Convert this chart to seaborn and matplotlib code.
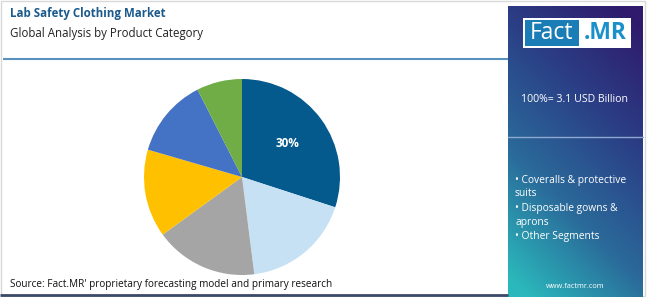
import numpy as np
import matplotlib
matplotlib.use("Agg")
import matplotlib.pyplot as plt
from matplotlib.patches import Rectangle
from matplotlib.colors import LinearSegmentedColormap
import seaborn as sns

# ---- data ----
segments = ["Coveralls & protective suits", "Disposable gowns & aprons", "Segment C",
            "Segment D", "Segment E", "Other Segments"]
shares = [30, 18, 17, 14.5, 13, 7.5]
colors = ["#045a8d", "#c6e1f3", "#a5a5a5", "#ffc000", "#4472c4", "#70ad47"]
title = "Lab Safety Clothing Market"
subtitle = "Global Analysis by Product Category"
source = "Source: Fact.MR' proprietary forecasting model and primary research"
total_label = "100%= 3.1 USD Billion"
legend_lines = ["• Coveralls & protective", "suits", "• Disposable gowns &", "aprons", "• Other Segments"]

sns.set_theme(style="white")
plt.rcParams['font.family'] = ['Open Sans', 'DejaVu Sans']

W, H = 650, 297
fig = plt.figure(figsize=(W / 100, H / 100), dpi=100)
fig.patch.set_facecolor("white")

def fx(px):
    return px / W

def fy(py):
    return 1 - py / H

# background overlay axes
bg = fig.add_axes([0, 0, 1, 1])
bg.set_xlim(0, W)
bg.set_ylim(H, 0)
bg.axis("off")

# outer border
bg.add_patch(Rectangle((1, 1), W - 6, H - 2, fill=False, edgecolor="#d9d9d9", lw=1))

# gradient panel
px0, px1, py0, py1 = 508, 643, 6, 297
ny, nx = 200, 100
yy, xx = np.mgrid[0:1:ny * 1j, 0:1:nx * 1j]
t = np.clip(0.75 * yy + 0.35 * (1 - xx) - 0.05, 0, 1)
cmap = LinearSegmentedColormap.from_list("fm", ["#2f1a6c", "#2b3f86", "#2a6a9a", "#2bb8bb"])
bg.imshow(t, cmap=cmap, extent=[px0, px1, py1, py0], aspect="auto", zorder=1)

# separator in panel
bg.plot([px0, px1], [137, 137], color="#8fa8d0", lw=1, zorder=2)

# logo
bg.add_patch(Rectangle((523, 18), 108, 30, facecolor="white", edgecolor="none", zorder=3))
bg.add_patch(Rectangle((525, 20), 54, 26, facecolor="#1b7db5", edgecolor="none", zorder=4))
bg.text(551.5, 33, "Fact", color="white", fontsize=16.5, ha="center", va="center", zorder=5)
bg.text(605, 33, ".MR", color="#1b8fc9", fontsize=16.5, fontweight="bold", ha="center", va="center", zorder=5)

bg.text(574.5, 100, total_label, color="white", fontsize=7.6, ha="center", va="center", zorder=5)
ys = [180, 194, 208, 222, 236]
for yv, line in zip(ys, legend_lines):
    bg.text(515, yv, line, color="white", fontsize=7.4, ha="left", va="center", zorder=5)
bg.text(575, 286, "www.factmr.com", color="white", fontsize=5.3, ha="center", va="center", zorder=5)

# titles
bg.text(10, 14, title, color="#1a5a8c", fontsize=8.3, fontweight="bold", ha="left", va="center")
bg.text(10, 33, subtitle, color="#222222", fontsize=8.3, ha="left", va="center")

# top rule
bg.plot([3, 508], [59, 59], color="#5b92bd", lw=1.5, solid_capstyle="butt")
# bottom rule
bg.plot([0, 508], [294.5, 294.5], color="#3b4a68", lw=2, solid_capstyle="butt")

bg.text(10, 285, source, color="#111111", fontsize=7.2, ha="left", va="center")

# pie
cx, cy, r = 242, 177, 98
pax = fig.add_axes([fx(cx - r), fy(cy + r), 2 * r / W, 2 * r / H])
wedges, texts, autotexts = pax.pie(
    shares, colors=colors, startangle=90, counterclock=False,
    autopct=lambda p: f"{p:.0f}%" if p >= 25 else "", pctdistance=0.58,
    wedgeprops=dict(linewidth=0), textprops=dict(color="white", fontsize=8.5, fontweight="bold"))
pax.set_xlim(-1, 1)
pax.set_ylim(-1, 1)
pax.set_aspect("equal")
pax.axis("off")

fig.savefig("out.png", dpi=100)
